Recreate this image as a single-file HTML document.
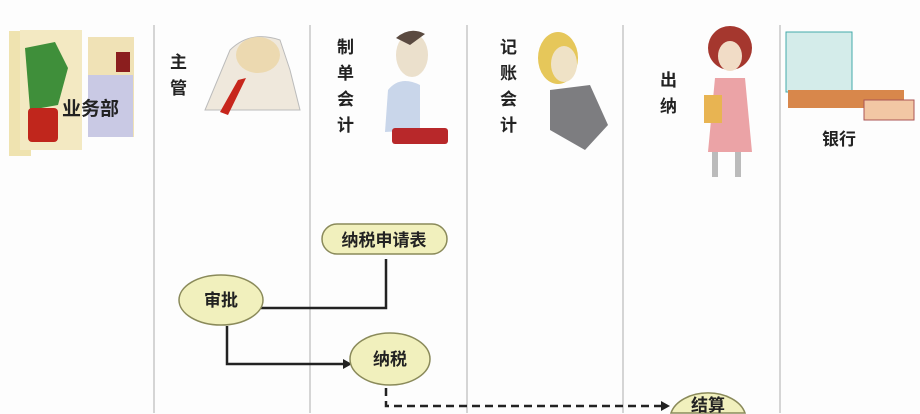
<!DOCTYPE html>
<html><head><meta charset="utf-8"><style>
html,body{margin:0;padding:0;background:#fff;width:920px;height:414px;overflow:hidden;}
svg{display:block;font-family:"Liberation Sans","Noto Sans CJK SC",sans-serif;}
</style></head><body>
<svg width="920" height="414" viewBox="0 0 920 414" xmlns="http://www.w3.org/2000/svg" overflow="hidden">
<rect width="920" height="414" fill="#fdfdfd"/>
<g stroke="#c8c8c8" stroke-width="1.5">
<line x1="154" y1="25" x2="154" y2="413"/>
<line x1="310" y1="25" x2="310" y2="413"/>
<line x1="467" y1="25" x2="467" y2="413"/>
<line x1="623" y1="25" x2="623" y2="413"/>
<line x1="780" y1="25" x2="780" y2="413"/>
</g>
<rect x="9" y="31" width="22" height="125" fill="#efe3b0"/>
<rect x="20" y="30" width="62" height="120" fill="#f3e9c2"/>
<rect x="88" y="37" width="46" height="100" fill="#f0e2b6"/>
<rect x="88" y="75" width="45" height="62" fill="#c9c9e4"/>
<rect x="116" y="52" width="14" height="20" fill="#8b1e1e"/>
<path d="M25 48 L55 42 L68 68 L58 105 L30 110 Z" fill="#3f8f3a"/>
<rect x="28" y="108" width="30" height="34" rx="4" fill="#c0261c"/>
<text x="62" y="115" font-size="19" font-weight="bold" fill="#222">业务部</text>
<text x="170" y="68" font-size="17" font-weight="bold" fill="#222">主</text>
<text x="170" y="94" font-size="17" font-weight="bold" fill="#222">管</text>
<path d="M230 50 Q250 30 280 40 L290 70 L300 110 L205 110 Z" fill="#efe8dc" stroke="#bbb"/>
<path d="M238 80 L246 78 L228 115 L220 112 Z" fill="#c7261c"/>
<ellipse cx="258" cy="55" rx="22" ry="18" fill="#ecd9b0"/>
<text x="337" y="53" font-size="17" font-weight="bold" fill="#222">制</text>
<text x="337" y="79" font-size="17" font-weight="bold" fill="#222">单</text>
<text x="337" y="105" font-size="17" font-weight="bold" fill="#222">会</text>
<text x="337" y="131" font-size="17" font-weight="bold" fill="#222">计</text>
<ellipse cx="412" cy="55" rx="16" ry="22" fill="#ebe0cc"/>
<path d="M396 38 Q410 26 425 34 L410 45 Z" fill="#5a4a40"/>
<path d="M388 90 Q400 75 420 85 L420 130 L385 132 Z" fill="#c9d6ea"/>
<rect x="392" y="128" width="56" height="16" rx="3" fill="#b8282a"/>
<text x="500" y="53" font-size="17" font-weight="bold" fill="#222">记</text>
<text x="500" y="79" font-size="17" font-weight="bold" fill="#222">账</text>
<text x="500" y="105" font-size="17" font-weight="bold" fill="#222">会</text>
<text x="500" y="131" font-size="17" font-weight="bold" fill="#222">计</text>
<ellipse cx="558" cy="58" rx="20" ry="26" fill="#e6c75a"/>
<ellipse cx="564" cy="64" rx="13" ry="18" fill="#efe2c6"/>
<path d="M550 90 L590 85 L608 125 L585 150 L550 130 Z" fill="#7d7d80"/>
<text x="660" y="86" font-size="17" font-weight="bold" fill="#222">出</text>
<text x="660" y="112" font-size="17" font-weight="bold" fill="#222">纳</text>
<ellipse cx="730" cy="48" rx="22" ry="22" fill="#a5372e"/>
<ellipse cx="730" cy="56" rx="12" ry="15" fill="#f1dcc6"/>
<path d="M715 78 L745 78 L752 152 L708 152 Z" fill="#eba3a6"/>
<rect x="704" y="95" width="18" height="28" fill="#e8b452"/>
<rect x="712" y="152" width="6" height="25" fill="#bbb"/>
<rect x="735" y="152" width="6" height="25" fill="#bbb"/>
<rect x="786" y="32" width="66" height="60" fill="#d4ecea" stroke="#4aa" stroke-width="1"/>
<rect x="788" y="90" width="116" height="18" fill="#d8874b"/>
<rect x="864" y="100" width="50" height="20" fill="#f2c7a4" stroke="#a55"/>
<text x="822" y="145" font-size="17" font-weight="bold" fill="#222">银行</text>
<g stroke="#222" stroke-width="2.5" fill="none">
<polyline points="386,259 386,308 240,308"/>
<polyline points="227,326 227,364 348,364"/>
<polyline points="386,388 386,406 662,406" stroke-dasharray="8,5"/>
</g>
<g fill="#222">
<path d="M233 308 L242 303 L242 313 Z"/>
<path d="M352 364 L343 359 L343 369 Z"/>
<path d="M670 406 L661 401 L661 411 Z"/>
</g>
<g fill="#f1f0bd" stroke="#8a8a5a" stroke-width="1.5">
<rect x="322" y="224" width="125" height="30" rx="15"/>
<ellipse cx="221" cy="300" rx="42" ry="25"/>
<ellipse cx="390" cy="359" rx="40" ry="26"/>
<path d="M671 413 A38 26 0 0 1 745 413 Z"/>
</g>
<g font-size="17" font-weight="bold" fill="#222" text-anchor="middle">
<text x="384" y="246">纳税申请表</text>
<text x="221" y="306">审批</text>
<text x="390" y="365">纳税</text>
<text x="708" y="411">结算</text>
</g>
</svg>
</body></html>
